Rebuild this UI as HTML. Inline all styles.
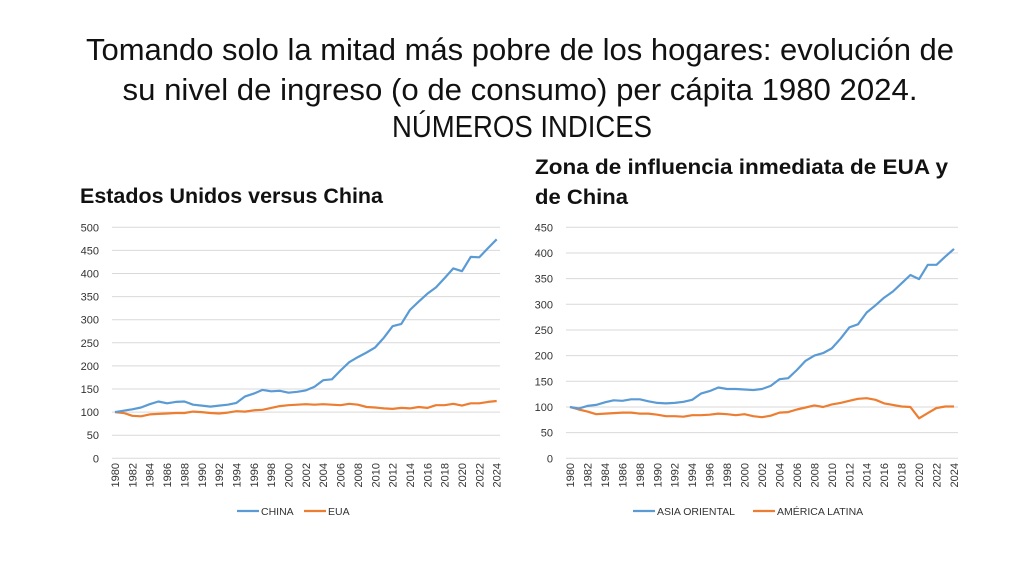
<!DOCTYPE html>
<html><head><meta charset="utf-8"><style>
html,body{margin:0;padding:0;background:#fff;}
svg{display:block;font-family:"Liberation Sans",sans-serif;}
</style></head><body>
<svg id="s" width="1024" height="586" viewBox="0 0 1024 586">
<rect width="1024" height="586" fill="#fff"/>
<g font-family="'Liberation Sans Narrow','Liberation Sans',sans-serif" font-size="31" fill="#111" text-anchor="middle">
<text x="520" y="60" textLength="868" lengthAdjust="spacingAndGlyphs">Tomando solo la mitad más pobre de los hogares: evolución de</text>
<text x="520" y="100" textLength="795" lengthAdjust="spacingAndGlyphs">su nivel de ingreso (o de consumo) per cápita 1980 2024.</text>
<text x="522" y="137" textLength="260" lengthAdjust="spacingAndGlyphs">NÚMEROS INDICES</text>
</g>
<g font-size="21" font-weight="bold" fill="#111">
<text x="80" y="203" textLength="303" lengthAdjust="spacingAndGlyphs">Estados Unidos versus China</text>
<text x="535" y="174" textLength="413" lengthAdjust="spacingAndGlyphs">Zona de influencia inmediata de EUA y</text>
<text x="535" y="204" textLength="93" lengthAdjust="spacingAndGlyphs">de China</text>
</g>
<g id="c"></g>
</svg>
<script>
var china=[100,103,106,110,117,123,119,122,123,116,114,112,114,116,120,134,140,148,145,146,142,144,147,155,169,171,190,208,219,229,240,261,286,291,321,339,356,370,390,411,405,436,435,455,474];
var eua=[100,98,92,91,95,96,97,98,98,101,100,98,97,99,102,101,104,105,109,113,115,116,117,116,117,116,115,118,116,111,110,108,107,109,108,111,109,115,115,118,114,119,119,122,124];
var asia=[100,97,102,104,109,113,112,115,115,111,108,107,108,110,114,126,131,138,135,135,134,133,135,141,154,156,172,190,200,205,214,233,255,261,284,298,313,325,341,357,349,377,377,393,408];
var lat=[100,95,91,86,87,88,89,89,87,87,85,82,82,81,84,84,85,87,86,84,86,82,80,83,89,90,95,99,103,100,105,108,112,116,117,114,107,104,101,100,78,88,98,101,101];
var h='';
function chart(x0,x1,gx0,gx1,max,step,s1,s2,l1,l2,legx){
  var y0=458.3,ytop=227.3,k=(y0-ytop)/max;
  for(var v=0;v<=max;v+=step){var y=y0-v*k;
    h+='<line x1="'+gx0+'" x2="'+gx1+'" y1="'+y+'" y2="'+y+'" stroke="#d9d9d9" stroke-width="1"/>';
    h+='<text x="'+(gx0-13)+'" y="'+(y+4)+'" font-size="11" fill="#333" text-anchor="end">'+v+'</text>';}
  var dx=(x1-x0)/44;
  for(var i=0;i<45;i+=2){var x=x0+i*dx;
    h+='<text transform="translate('+(x+4)+',463) rotate(-90)" font-size="11" fill="#333" text-anchor="end">'+(1980+i)+'</text>';}
  function line(d,c){var p='';for(var i=0;i<d.length;i++)p+=(i?'L':'M')+(x0+i*dx).toFixed(1)+' '+(y0-d[i]*k).toFixed(1);
    h+='<path d="'+p+'" fill="none" stroke="'+c+'" stroke-width="2.2" stroke-linejoin="round"/>';}
  line(s2,'#ed7d31');line(s1,'#5b9bd5');
  var lx=legx[0];
  h+='<line x1="'+lx+'" x2="'+(lx+22)+'" y1="511" y2="511" stroke="#5b9bd5" stroke-width="2.2"/>';
  h+='<text x="'+(lx+24)+'" y="515" font-size="10.5" fill="#333">'+l1+'</text>';
  lx=legx[1];
  h+='<line x1="'+lx+'" x2="'+(lx+22)+'" y1="511" y2="511" stroke="#ed7d31" stroke-width="2.2"/>';
  h+='<text x="'+(lx+24)+'" y="515" font-size="10.5" fill="#333">'+l2+'</text>';
}
chart(115,496.7,112,500,500,50,china,eua,'CHINA','EUA',[237,304]);
chart(570,954,566,958,450,50,asia,lat,'ASIA ORIENTAL','AMÉRICA LATINA',[633,753]);
document.getElementById('c').innerHTML=h;
</script>
</body></html>
